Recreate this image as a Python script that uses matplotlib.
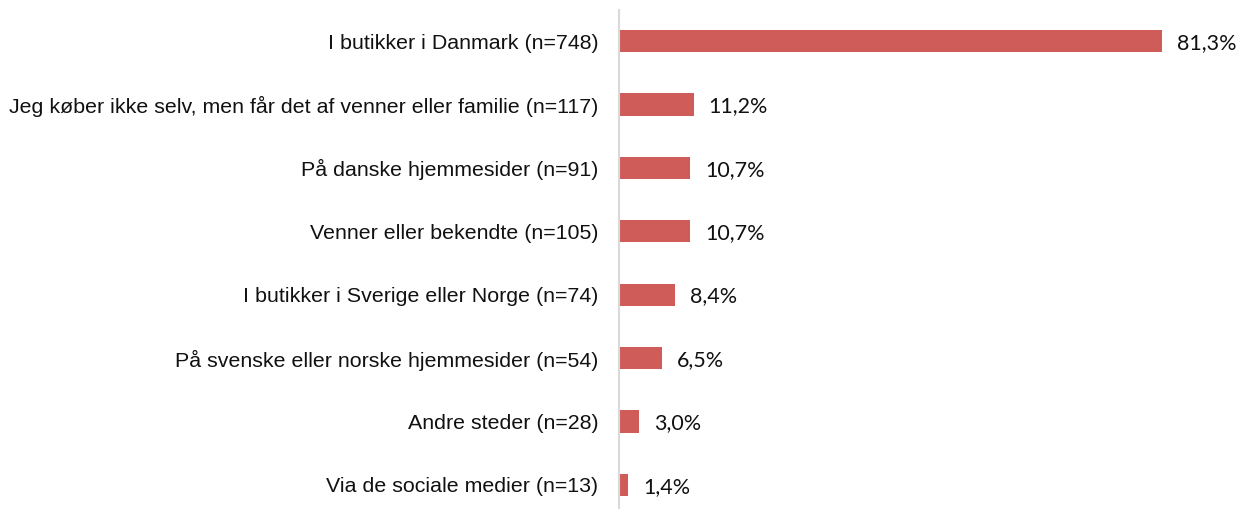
import matplotlib
matplotlib.use('Agg')
import matplotlib.pyplot as plt

# answers and shares (%)
categories = [
    'I butikker i Danmark (n=748)',
    'Jeg køber ikke selv, men får det af venner eller familie (n=117)',
    'På danske hjemmesider (n=91)',
    'Venner eller bekendte (n=105)',
    'I butikker i Sverige eller Norge (n=74)',
    'På svenske eller norske hjemmesider (n=54)',
    'Andre steder (n=28)',
    'Via de sociale medier (n=13)',
]
values = [81.3, 11.2, 10.7, 10.7, 8.4, 6.5, 3.0, 1.4]

bar_color = '#D05C5A'

fig = plt.figure(figsize=(12.47, 5.09), dpi=100)
ax = fig.add_axes([619 / 1247, 0, 1 - 619 / 1247, 1 - 10 / 509])

pos = list(range(len(categories)))
ax.barh(pos, values, height=0.35, color=bar_color)

for y, v in zip(pos, values):
    ax.text(v + 2.2, y + 0.03, f'{v:.1f}'.replace('.', ',') + '%', va='center', ha='left',
            fontsize=15.5, family='Lato', color='#111111')

ax.set_yticks(pos)
ax.set_yticklabels(categories, fontsize=15.4, family='Liberation Sans', color='#111111')
ax.tick_params(axis='y', length=0, pad=15)
ax.set_xticks([])
ax.set_xlim(0, 94)
ax.set_ylim(7.38, -0.489)

for s in ['top', 'right', 'bottom']:
    ax.spines[s].set_visible(False)
ax.spines['left'].set_color('#D9D9D9')
ax.spines['left'].set_linewidth(1.5)

fig.savefig('out.png', dpi=100)
